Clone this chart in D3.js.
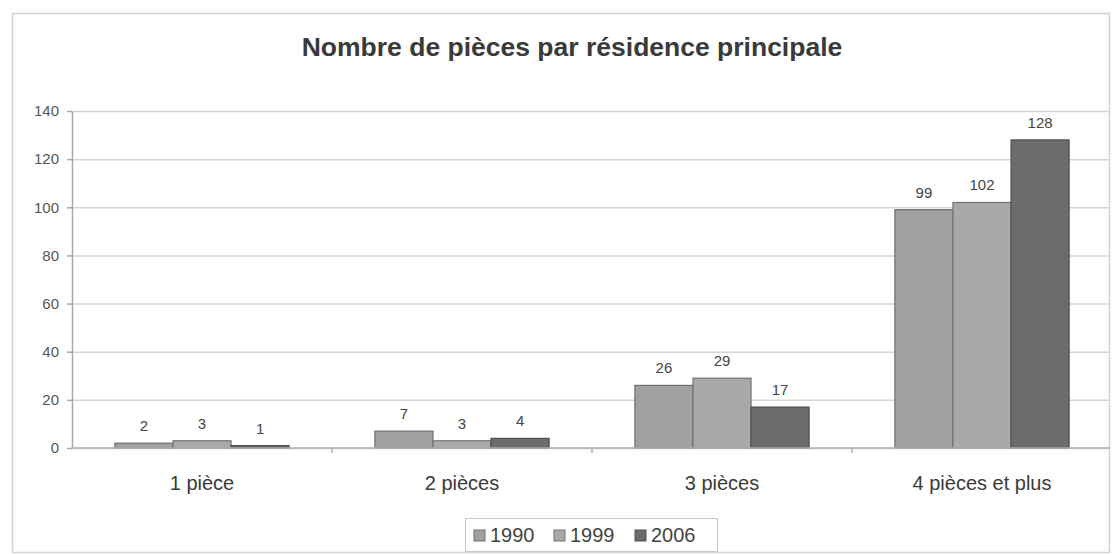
<!DOCTYPE html>
<html>
<head>
<meta charset="utf-8">
<script src="https://cdn.jsdelivr.net/npm/d3@7"></script>
<style>
  body { margin: 0; background: #fff; }
  svg { display: block; font-family: "Liberation Sans", Arial, sans-serif; }
</style>
</head>
<body>
<svg id="chart" width="1114" height="554"></svg>
<script>
var categories = ["1 pièce", "2 pièces", "3 pièces", "4 pièces et plus"];
var years = ["1990", "1999", "2006"];
var v1990 = [2, 7, 26, 99];
var v1999 = [3, 3, 29, 102];
var v2006 = [1, 4, 17, 128];
var yTicks = [0, 20, 40, 60, 80, 100, 120, 140];

var series = [
    {year: years[0], values: v1990, fill: "#a1a1a1", stroke: "#6e6e6e"},
    {year: years[1], values: v1999, fill: "#a9a9a9", stroke: "#727272"},
    {year: years[2], values: v2006, fill: "#6c6c6c", stroke: "#4f4f4f"}
];

var svg = d3.select("#chart");
var plotLeft = 72, plotRight = 1112, plotTop = 111, plotBottom = 448;

// outer frame
svg.append("rect")
    .attr("x", 12.5).attr("y", 13.5)
    .attr("width", 1097).attr("height", 539)
    .attr("fill", "#fff")
    .attr("stroke", "#d2d2d2")
    .attr("stroke-width", 1.5);

svg.append("text")
    .attr("x", 572).attr("y", 56)
    .attr("text-anchor", "middle")
    .attr("font-size", 26.5).attr("font-weight", "bold")
    .attr("fill", "#3a3a3a")
    .text("Nombre de pièces par résidence principale");

var x0 = d3.scaleBand()
    .domain(categories)
    .range([plotLeft, plotRight])
    .paddingInner(0.33)
    .paddingOuter(0.165);

var x1 = d3.scaleBand()
    .domain(years)
    .range([0, x0.bandwidth()]);

var y = d3.scaleLinear()
    .domain([0, 140])
    .range([plotBottom, plotTop]);

// gridlines
svg.append("g")
    .attr("transform", "translate(" + plotLeft + ",0)")
    .call(d3.axisLeft(y).tickValues(yTicks).tickSize(-(1110 - plotLeft)).tickFormat(""))
    .call(function(g) { g.select(".domain").remove(); })
    .selectAll("line")
        .attr("stroke", "#d6d6d6")
        .attr("stroke-width", 1.5);

// y axis
var yAxis = svg.append("g")
    .attr("transform", "translate(" + plotLeft + ",0)")
    .call(d3.axisLeft(y).tickValues(yTicks).tickSize(5).tickPadding(8).tickSizeOuter(0));
yAxis.select(".domain").attr("stroke", "#a8a8a8").attr("stroke-width", 1.5);
yAxis.selectAll("line").attr("stroke", "#a8a8a8").attr("stroke-width", 1.5);
yAxis.selectAll("text")
    .attr("font-size", 15)
    .attr("font-family", "Liberation Sans, Arial, sans-serif")
    .attr("fill", "#555");

// bars
var groups = svg.append("g")
    .selectAll("g")
    .data(series)
    .enter()
    .append("g");

groups.selectAll("rect")
    .data(function(s) { return s.values.map(function(v, i) { return {cat: categories[i], v: v, s: s}; }); })
    .enter()
    .append("rect")
        .attr("x", function(d) { return x0(d.cat) + x1(d.s.year); })
        .attr("y", function(d) { return y(d.v); })
        .attr("width", x1.bandwidth())
        .attr("height", function(d) { return y(0) - y(d.v); })
        .attr("fill", function(d) { return d.s.fill; })
        .attr("stroke", function(d) { return d.s.stroke; })
        .attr("stroke-width", 1.2);

groups.selectAll("text")
    .data(function(s) { return s.values.map(function(v, i) { return {cat: categories[i], v: v, s: s}; }); })
    .enter()
    .append("text")
        .attr("x", function(d) { return x0(d.cat) + x1(d.s.year) + x1.bandwidth() / 2; })
        .attr("y", function(d) { return y(d.v) - 12; })
        .attr("text-anchor", "middle")
        .attr("font-size", 15)
        .attr("fill", "#444")
        .text(function(d) { return d.v; });

// x axis
var xAxis = svg.append("g")
    .attr("transform", "translate(0," + plotBottom + ")")
    .call(d3.axisBottom(x0).tickSize(0).tickPadding(28).tickSizeOuter(0));
xAxis.select(".domain").attr("stroke", "#b0b0b0").attr("stroke-width", 1.5).attr("d", "M" + plotLeft + ",0H1110");
xAxis.selectAll("text")
    .attr("font-size", 20)
    .attr("font-family", "Liberation Sans, Arial, sans-serif")
    .attr("fill", "#3a3a3a");

// ticks between categories
xAxis.selectAll(".sep")
    .data(categories.slice(1))
    .enter()
    .append("line")
        .attr("x1", function(c) { return x0(c) - x0.step() * x0.paddingInner() / 2; })
        .attr("x2", function(c) { return x0(c) - x0.step() * x0.paddingInner() / 2; })
        .attr("y1", 0).attr("y2", 5)
        .attr("stroke", "#b0b0b0")
        .attr("stroke-width", 1.5);

// legend
var legend = svg.append("g").attr("transform", "translate(465,518)");
legend.append("rect")
    .attr("x", 0.5).attr("y", 0.5)
    .attr("width", 252).attr("height", 33)
    .attr("fill", "#fff")
    .attr("stroke", "#c8c8c8");

var legendX = [9, 89, 170];
var item = legend.selectAll(".item")
    .data(series)
    .enter()
    .append("g")
        .attr("transform", function(d, i) { return "translate(" + legendX[i] + ",0)"; });

item.append("rect")
    .attr("x", 0).attr("y", 12)
    .attr("width", 11).attr("height", 11)
    .attr("fill", function(d) { return d.fill; })
    .attr("stroke", function(d) { return d.stroke; });

item.append("text")
    .attr("x", 16).attr("y", 24)
    .attr("font-size", 20)
    .attr("fill", "#444")
    .text(function(d) { return d.year; });
</script>
</body>
</html>
